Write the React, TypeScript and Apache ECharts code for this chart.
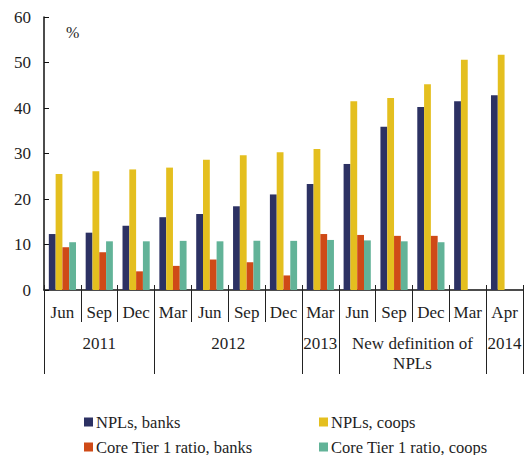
import React, { useEffect, useRef } from "react";
import * as echarts from "echarts";

const months = ["Jun", "Sep", "Dec", "Mar", "Jun", "Sep", "Dec", "Mar", "Jun", "Sep", "Dec", "Mar", "Apr"];
const yearLabels = ["2011", "2012", "2013", "New definition of\nNPLs", "2014"];
const yearSpans = [3, 4, 1, 4, 1];
const nplBanks = [12.3, 12.6, 14.1, 16.0, 16.7, 18.4, 21.0, 23.3, 27.7, 35.9, 40.2, 41.5, 42.8];
const nplCoops = [25.5, 26.1, 26.5, 26.9, 28.6, 29.6, 30.3, 31.0, 41.5, 42.2, 45.2, 50.6, 51.7];
const tier1Banks = [9.4, 8.3, 4.1, 5.3, 6.7, 6.1, 3.2, 12.3, 12.1, 11.9, 11.9, null, null];
const tier1Coops = [10.5, 10.7, 10.7, 10.8, 10.7, 10.8, 10.8, 11.0, 10.9, 10.7, 10.5, null, null];
const seriesNames = ["NPLs, banks", "NPLs, coops", "Core Tier 1 ratio, banks", "Core Tier 1 ratio, coops"];
const colors = ["#2c3163", "#e4bf1f", "#cf4a17", "#62b398"];

const FONT = "'Liberation Serif', 'Times New Roman', serif";
const TXT = "#1e1e1e";

export default function App() {
  const ref = useRef<HTMLDivElement>(null);
  useEffect(() => {
    if (!ref.current) return;
    document.body.style.margin = "0";
    const chart = echarts.init(ref.current, null, { renderer: "svg" });

    // half-step axis for year groups
    const n = months.length * 2 + 1;
    const yearAxisData: string[] = new Array(n).fill("");
    const boundaries = new Set<number>();
    let s = 0;
    boundaries.add(0);
    yearLabels.forEach((lab, i) => {
      yearAxisData[2 * s + yearSpans[i]] = lab;
      s += yearSpans[i];
      boundaries.add(2 * s);
    });

    const values = [nplBanks, nplCoops, tier1Banks, tier1Coops];
    const legendPos = [
      { left: 84, top: 413.5 },
      { left: 319, top: 413.5 },
      { left: 84, top: 438.5 },
      { left: 319, top: 438.5 },
    ];

    chart.setOption({
      animation: false,
      color: colors,
      textStyle: { fontFamily: FONT, color: TXT },
      grid: { left: 44, right: 2, top: 17, bottom: 165, containLabel: false },
      legend: seriesNames.map((name, i) => ({
        data: [name],
        left: legendPos[i].left,
        top: legendPos[i].top,
        itemWidth: 9,
        itemHeight: 9,
        icon: "rect",
        padding: 0,
        textStyle: { fontFamily: FONT, fontSize: 16.5, lineHeight: 16, color: TXT, padding: [0, 0, 0, -2] },
      })),
      xAxis: [
        {
          type: "category",
          data: months,
          position: "bottom",
          axisLine: { show: true, lineStyle: { color: "#111", width: 1.5 } },
          axisTick: { show: true, length: 32, lineStyle: { color: "#222", width: 1 } },
          axisLabel: { interval: 0, margin: 12, fontFamily: FONT, fontSize: 17, lineHeight: 20, color: TXT },
        },
        {
          type: "category",
          data: yearAxisData,
          position: "bottom",
          boundaryGap: false,
          axisLine: { show: false },
          axisTick: {
            show: true,
            length: 84,
            interval: (idx: number) => boundaries.has(idx),
            lineStyle: { color: "#222", width: 1 },
          },
          axisLabel: {
            interval: 0,
            margin: 43,
            fontFamily: FONT,
            fontSize: 17,
            lineHeight: 20,
            color: TXT,
            align: "center",
          },
        },
        {
          type: "category",
          data: months,
          position: "bottom",
          axisLine: { show: false },
          axisTick: { show: true, inside: true, length: 5, lineStyle: { color: "#222", width: 1 } },
          axisLabel: { show: false },
        },
      ],
      yAxis: {
        type: "value",
        min: 0,
        max: 60,
        interval: 10,
        splitLine: { show: false },
        axisLine: { show: true, lineStyle: { color: "#111", width: 1.5 } },
        axisTick: { show: true, inside: true, length: 5, lineStyle: { color: "#111", width: 1 } },
        axisLabel: { margin: 13, fontFamily: FONT, fontSize: 17, color: TXT },
      },
      graphic: [
        {
          type: "text",
          left: 66,
          top: 24,
          style: { text: "%", fontFamily: FONT, fontSize: 16, fill: TXT },
        },
      ],
      series: seriesNames.map((name, i) => ({
        name,
        type: "bar",
        xAxisIndex: 0,
        data: values[i],
        barWidth: 6.8,
        barGap: "0%",
        itemStyle: { color: colors[i] },
      })),
    });
    return () => chart.dispose();
  }, []);
  return <div ref={ref} style={{ width: 526, height: 455 }} />;
}
